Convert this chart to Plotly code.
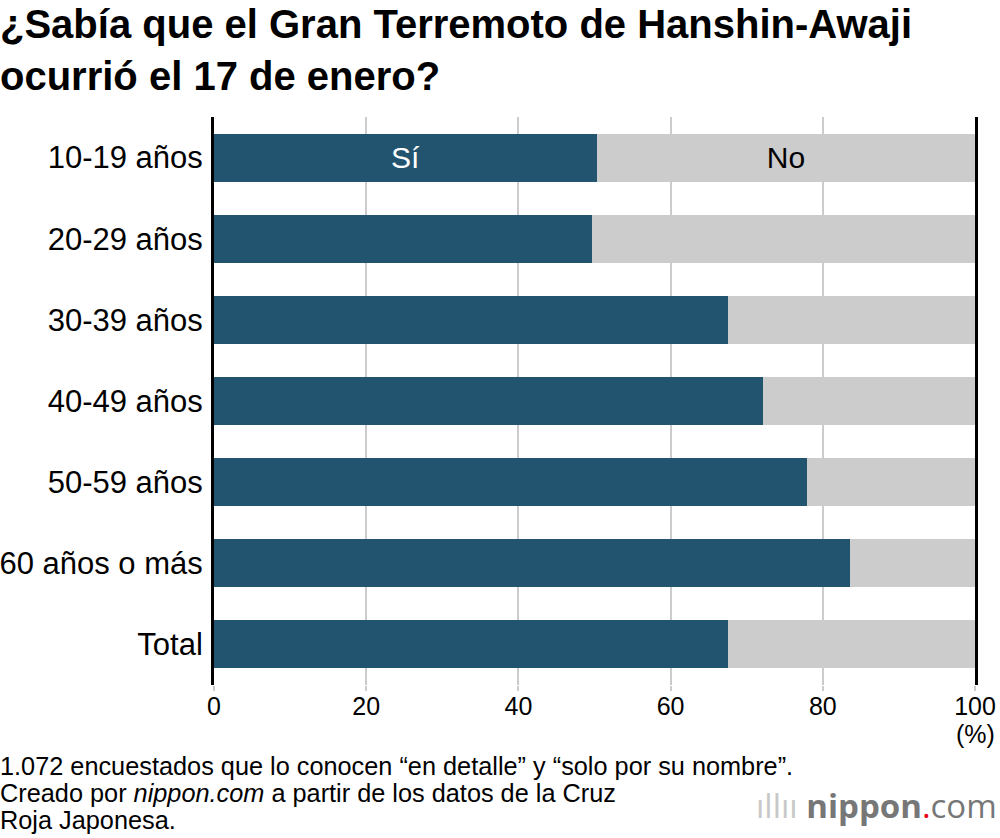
import plotly.graph_objects as go

categories = ["10-19 años", "20-29 años", "30-39 años", "40-49 años",
              "50-59 años", "60 años o más", "Total"]
si_values = [50.3, 49.7, 67.5, 72.1, 77.9, 83.6, 67.5]
no_values = [round(100 - v, 1) for v in si_values]
series_names = ["Sí", "No"]
x_ticks = [0, 20, 40, 60, 80, 100]

FONT = "Liberation Sans, Arial, Helvetica, sans-serif"
NARROW = "Liberation Sans Narrow, Liberation Sans, Arial, sans-serif"
BLUE = "#23546f"
GREY = "#cccccc"

si_text = [series_names[0]] + [""] * (len(categories) - 1)
no_text = [series_names[1]] + [""] * (len(categories) - 1)

fig = go.Figure()
fig.add_trace(go.Bar(
    y=categories, x=si_values, orientation="h", name=series_names[0],
    marker=dict(color=BLUE, line=dict(width=0)),
    text=si_text, textposition="inside", insidetextanchor="middle",
    textfont=dict(color="white", size=30, family=FONT),
    hoverinfo="x+y",
))
fig.add_trace(go.Bar(
    y=categories, x=no_values, orientation="h", name=series_names[1],
    marker=dict(color=GREY, line=dict(width=0)),
    text=no_text, textposition="inside", insidetextanchor="middle",
    textfont=dict(color="black", size=30, family=FONT),
    hoverinfo="x+y",
))

fig.update_layout(
    width=1000, height=838,
    template="none",
    barmode="stack", bargap=0.41,
    showlegend=False,
    plot_bgcolor="white", paper_bgcolor="white",
    margin=dict(l=214, r=25, t=117, b=153, autoexpand=False),
    font=dict(family=FONT, color="black"),
    uniformtext=dict(mode="show", minsize=10),
    xaxis=dict(
        range=[0, 100], tickvals=x_ticks, ticktext=[str(t) for t in x_ticks],
        showgrid=True, gridcolor=GREY, gridwidth=2,
        ticks="outside", ticklen=5, tickcolor=GREY, tickwidth=2,
        ticklabelstandoff=-6,
        tickfont=dict(size=25, family=NARROW),
        zeroline=False, showline=False, fixedrange=True, automargin=False,
    ),
    yaxis=dict(
        categoryorder="array", categoryarray=categories,
        autorange="reversed",
        showline=True, mirror=True, linecolor="black", linewidth=3,
        showgrid=False, ticks="", ticklabelstandoff=2,
        tickfont=dict(size=31, family=FONT), automargin=False,
        zeroline=False, fixedrange=True,
    ),
)

fig.add_annotation(
    text="<b>¿Sabía que el Gran Terremoto de Hanshin-Awaji<br>ocurrió el 17 de enero?</b>",
    xref="paper", yref="paper", x=0, y=1, xanchor="left", yanchor="top",
    xshift=-216, yshift=117, align="left", showarrow=False,
    font=dict(size=40, family=FONT, color="black"),
)
fig.add_annotation(
    text="(%)", xref="x", yref="paper", x=100, y=0, xanchor="center", yanchor="top",
    yshift=-33, showarrow=False, font=dict(size=25, family=NARROW),
)
foot_lines = [
    "1.072 encuestados que lo conocen “en detalle” y “solo por su nombre”.",
    "Creado por <i>nippon.com</i> a partir de los datos de la Cruz",
    "Roja Japonesa.",
]
for i, line in enumerate(foot_lines):
    fig.add_annotation(
        text=line, xref="paper", yref="paper", x=0, y=0, xanchor="left", yanchor="middle",
        xshift=-216, yshift=-81 - 27 * i, align="left", showarrow=False,
        font=dict(size=25.3, family=FONT),
    )
fig.add_annotation(
    text="<span style='color:#c8c8c8'>ıllıı</span> <b>nippon</b><span style='color:#e60012'>.</span>com",
    xref="paper", yref="paper", x=1, y=0, xanchor="right", yanchor="middle",
    xshift=24, yshift=-120, showarrow=False,
    font=dict(size=33, family="Open Sans, Liberation Sans, sans-serif", color="#777777"),
)

fig.write_html(
    "out.html",
    config={"displayModeBar": False},
    post_script="document.body.style.margin='0';document.body.style.overflow='hidden';",
)
